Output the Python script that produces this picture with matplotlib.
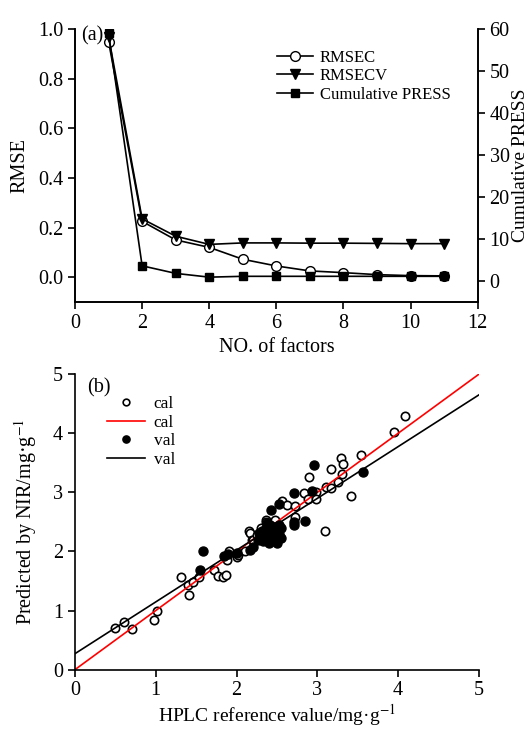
import numpy as np
import matplotlib.pyplot as plt

plt.rcParams['font.family'] = ['Liberation Serif', 'DejaVu Serif']
plt.rcParams['mathtext.fontset'] = 'stix'

# (a) errors vs number of factors
factors = [1, 2, 3, 4, 5, 6, 7, 8, 9, 10, 11]
rmsec = [0.95, 0.225, 0.15, 0.12, 0.072, 0.045, 0.025, 0.018, 0.01, 0.006, 0.005]
rmsecv = [0.97, 0.235, 0.165, 0.132, 0.138, 0.138, 0.137, 0.137, 0.136, 0.135, 0.135]
press = [59.0, 3.6, 1.8, 0.9, 1.1, 1.1, 1.1, 1.1, 1.1, 1.1, 1.1]

# (b) predicted vs reference
cal_x = [0.50, 0.61, 0.71, 0.98, 1.02, 1.31, 1.41, 1.40, 1.46, 1.53,
         1.72, 1.77, 1.83, 1.87, 1.88, 1.91, 2.00, 2.02, 2.10, 2.16,
         2.17, 2.19, 2.21, 2.25, 2.30, 2.35, 2.37, 2.36, 2.40, 2.45,
         2.48, 2.52, 2.56, 2.63, 2.72, 2.73, 2.83, 2.89, 2.90, 2.98,
         2.98, 3.09, 3.11, 3.17, 3.17, 3.26, 3.29, 3.31, 3.32, 3.42,
         3.54, 3.95, 4.08]
cal_y = [0.71, 0.80, 0.69, 0.84, 0.99, 1.57, 1.27, 1.44, 1.48, 1.57,
         1.69, 1.58, 1.57, 1.61, 1.86, 2.01, 1.90, 1.94, 2.00, 2.34,
         2.32, 2.20, 2.20, 2.28, 2.40, 2.26, 2.53, 2.50, 2.30, 2.42,
         2.53, 2.38, 2.86, 2.78, 2.59, 2.77, 2.99, 2.89, 3.26, 3.00,
         2.88, 2.35, 3.09, 3.07, 3.39, 3.18, 3.59, 3.31, 3.48, 2.94,
         3.63, 4.03, 4.30]
val_x = [1.55, 1.59, 1.84, 1.90, 2.01, 2.17, 2.20, 2.27, 2.30, 2.32,
         2.33, 2.35, 2.36, 2.38, 2.40, 2.40, 2.42, 2.43, 2.44, 2.45,
         2.46, 2.47, 2.48, 2.50, 2.50, 2.52, 2.53, 2.55, 2.55, 2.38,
         2.28, 2.43, 2.52, 2.71, 2.71, 2.71, 2.85, 2.93, 2.96, 3.57]
val_y = [1.68, 2.00, 1.93, 1.96, 1.97, 2.03, 2.08, 2.20, 2.25, 2.35,
         2.18, 2.28, 2.40, 2.22, 2.32, 2.15, 2.45, 2.27, 2.38, 2.20,
         2.30, 2.42, 2.25, 2.35, 2.15, 2.45, 2.30, 2.40, 2.22, 2.48,
         2.32, 2.71, 2.81, 2.99, 2.50, 2.45, 2.51, 3.02, 3.46, 3.35]
cal_fit = [0.0, 1.0]      # intercept, slope
val_fit = [0.27, 0.876]

fig = plt.figure(figsize=(5.32, 7.31), dpi=100)

# ---- panel (a)
ax1 = fig.add_axes([0.141, 0.587, 0.757, 0.373])
ax2 = ax1.twinx()
l1, = ax1.plot(factors, rmsec, '-o', color='k', mfc='white', mec='k', ms=7, lw=1.2, label='RMSEC')
l2, = ax1.plot(factors, rmsecv, '-v', color='k', ms=7.5, lw=1.2, label='RMSECV')
l3, = ax2.plot(factors, press, '-s', color='k', ms=6, lw=1.2, label='Cumulative PRESS')
ax1.set_xlim(0, 12)
ax1.set_ylim(-0.1, 1.0)
ax2.set_ylim(-5, 60)
ax1.set_xticks(np.arange(0, 13, 2))
ax1.set_yticks(np.arange(0, 1.01, 0.2))
ax1.set_yticklabels(['%.1f' % v for v in np.arange(0, 1.01, 0.2)])
ax2.set_yticks(np.arange(0, 61, 10))
for a in (ax1, ax2):
    a.spines['top'].set_visible(False)
    a.tick_params(direction='out', labelsize=14.5, length=5, width=1.2)
    for s in a.spines.values():
        s.set_linewidth(1.2)
ax1.set_xlabel('NO. of factors', fontsize=14.5, labelpad=4)
ax1.set_ylabel('RMSE', fontsize=14.5, labelpad=6)
ax2.set_ylabel('Cumulative PRESS', fontsize=14, labelpad=2)
ax1.text(0.015, 1.01, '(a)', transform=ax1.transAxes, fontsize=14.5, va='top')
ax1.legend(handles=[l1, l2, l3], loc='upper right', bbox_to_anchor=(0.97, 0.98),
           frameon=False, fontsize=12, handlelength=2.2, handletextpad=0.4,
           labelspacing=0.15)

# ---- panel (b)
ax3 = fig.add_axes([0.141, 0.084, 0.759, 0.404])
xx = np.array([0, 5])
h1, = ax3.plot(cal_x, cal_y, 'o', mfc='white', mec='k', ms=6, mew=1.2, ls='none', label='cal')
h2, = ax3.plot(xx, cal_fit[0] + cal_fit[1] * xx, color='red', lw=1.2, label='cal')
h3, = ax3.plot(val_x, val_y, 'o', color='k', ms=6.5, ls='none', label='val')
h4, = ax3.plot(xx, val_fit[0] + val_fit[1] * xx, color='k', lw=1.2, label='val')
ax3.set_xlim(0, 5)
ax3.set_ylim(0, 5)
ax3.set_xticks(range(6))
ax3.set_yticks(range(6))
ax3.spines['top'].set_visible(False)
ax3.spines['right'].set_visible(False)
for s in ax3.spines.values():
    s.set_linewidth(1.2)
ax3.tick_params(direction='out', labelsize=14.5, length=5, width=1.2)
ax3.set_xlabel('HPLC reference value/mg·g$^{-1}$', fontsize=14, labelpad=1)
ax3.set_ylabel('Predicted by NIR/mg·g$^{-1}$', fontsize=14.5, labelpad=10)
ax3.text(0.03, 0.985, '(b)', transform=ax3.transAxes, fontsize=14.5, va='top')
ax3.legend(handles=[h1, h2, h3, h4], loc='upper left', bbox_to_anchor=(0.04, 0.98),
           frameon=False, fontsize=12.5, numpoints=1, handlelength=2.2,
           handletextpad=0.5, labelspacing=0.15, markerscale=0.8)

fig.savefig('out.png', dpi=100)
